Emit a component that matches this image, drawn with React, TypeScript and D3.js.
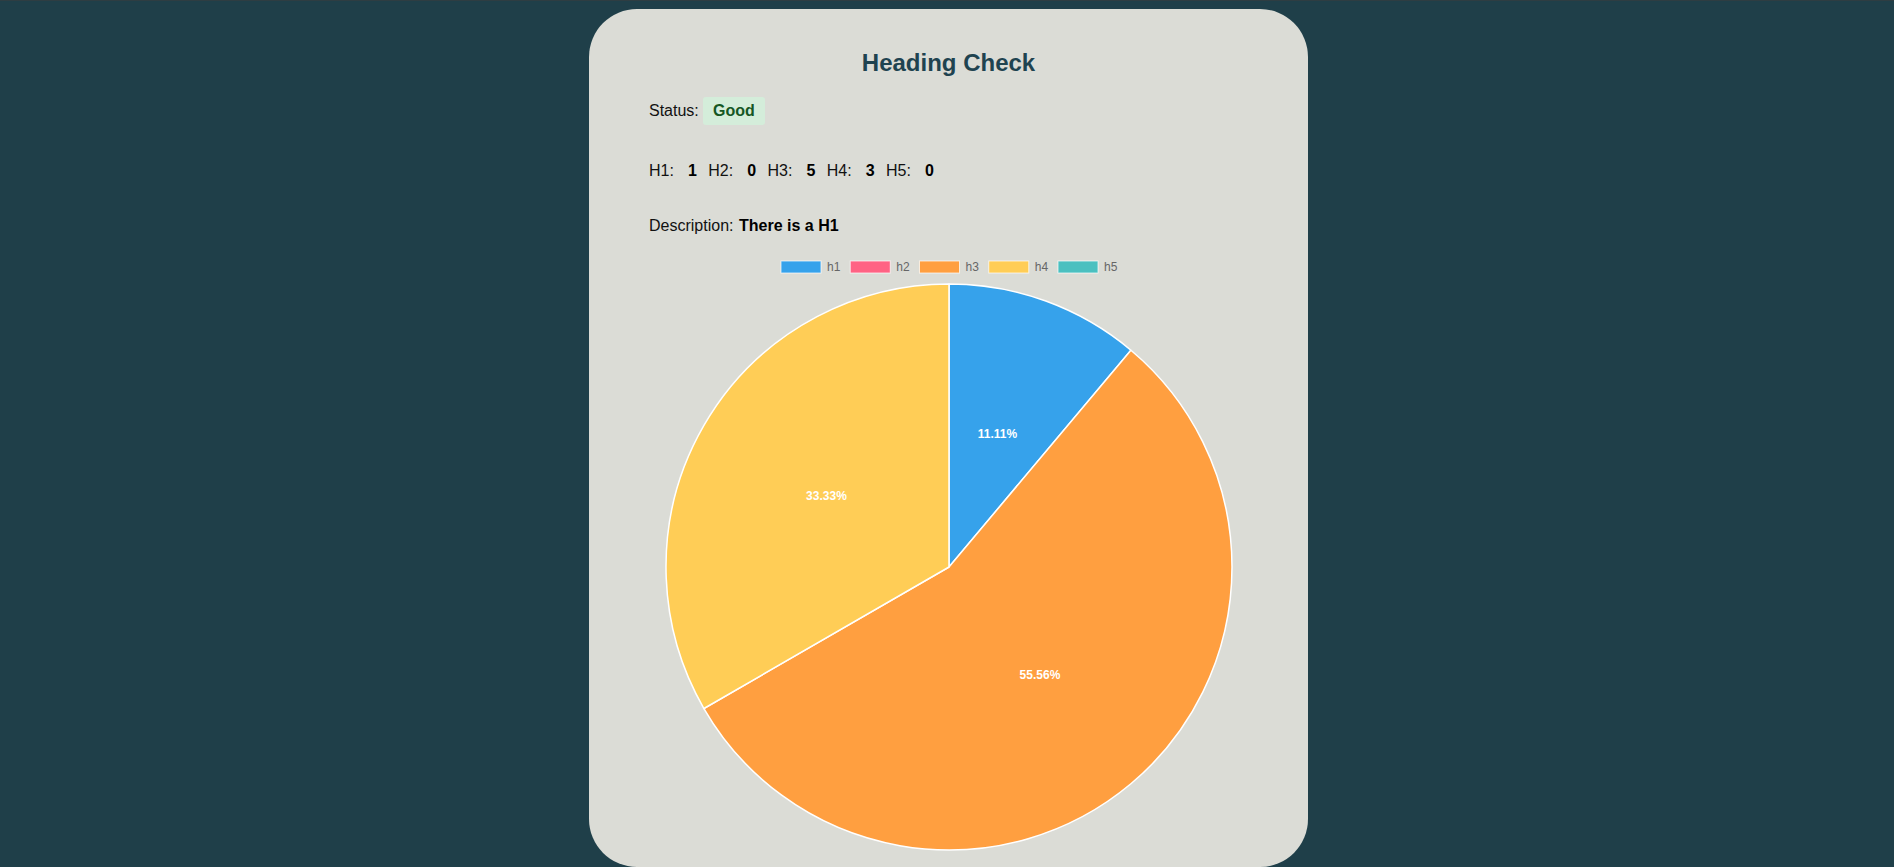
import React, { useEffect, useRef } from "react";
import * as d3 from "d3";

// heading counts
const headingKeys = ["h1", "h2", "h3", "h4", "h5"];
const headingLabels = ["H1", "H2", "H3", "H4", "H5"];
const headingCounts = [1, 0, 5, 3, 0];
const sliceColors = ["#36a2eb", "#ff6384", "#ff9f40", "#ffcd56", "#4bc0c0"];

const title = "Heading Check";
const statusText = "Good";
const descriptionText = "There is a H1";

const W = 1894;
const H = 867;
const FONT = "'Liberation Sans', Arial, Helvetica, sans-serif";

const card = { x: 589, y: 9, w: 719, h: 858, r: 48 };
const pieSpec = { cx: 949, cy: 567, r: 283 };

export default function App() {
  const pieRef = useRef<SVGGElement>(null);
  const legendRef = useRef<SVGGElement>(null);

  useEffect(() => {
    document.body.style.margin = "0";
    document.body.style.background = "#1f3f49";

    const data = headingKeys.map((k, i) => ({ key: k, value: headingCounts[i], color: sliceColors[i] }));
    const total = d3.sum(headingCounts);
    const pie = d3.pie<any>().value(d => d.value).sort(null);
    const arc = d3.arc<any>().innerRadius(0).outerRadius(pieSpec.r);
    const labelArc = d3.arc<any>().innerRadius(pieSpec.r / 2).outerRadius(pieSpec.r / 2);
    const fmt = d3.format(".2f");

    const g = d3.select(pieRef.current);
    g.selectAll("*").remove();
    const arcs = pie(data).filter(d => d.data.value > 0);

    g.selectAll("path.arc")
      .data(arcs)
      .enter()
      .append("path")
      .attr("class", "arc")
      .attr("d", arc)
      .attr("fill", d => d.data.color)
      .attr("stroke", "#ffffff")
      .attr("stroke-width", 1.5)
      .attr("stroke-linejoin", "round");

    g.selectAll("text.pct")
      .data(arcs)
      .enter()
      .append("text")
      .attr("class", "pct")
      .attr("transform", d => `translate(${labelArc.centroid(d)})`)
      .attr("text-anchor", "middle")
      .attr("dominant-baseline", "central")
      .style("fill", "#ffffff")
      .style("font-family", FONT)
      .style("font-weight", "bold")
      .style("font-size", "12px")
      .text(d => `${fmt((d.data.value / total) * 100)}%`);

    // legend
    const lg = d3.select(legendRef.current);
    lg.selectAll("*").remove();
    const legendX = d3.scalePoint<string>().domain(headingKeys).range([781, 1058]);
    const item = lg
      .selectAll("g.item")
      .data(data)
      .enter()
      .append("g")
      .attr("class", "item")
      .attr("transform", d => `translate(${legendX(d.key)}, 261)`);
    item
      .append("rect")
      .attr("width", 40)
      .attr("height", 12)
      .attr("fill", d => d.color)
      .attr("stroke", "#ffffff")
      .attr("stroke-opacity", 0.7)
      .attr("stroke-width", 1);
    item
      .append("text")
      .attr("x", 46)
      .attr("y", 6)
      .attr("dominant-baseline", "central")
      .style("fill", "#666666")
      .style("font-family", FONT)
      .style("font-size", "12px")
      .text(d => d.key);
  }, []);

  const rowX = d3.scaleLinear().domain([0, 4]).range([649, 886]);

  return (
    <svg width={W} height={H} style={{ display: "block", position: "absolute", left: 0, top: 0 }}>
      <rect x={0} y={0} width={W} height={H} fill="#1f3f49" />
      <rect x={0} y={0} width={W} height={1} fill="#2e3d42" />
      <rect x={card.x} y={card.y} width={card.w} height={card.h} rx={card.r} ry={card.r} fill="#dbdcd6" />
      <text
        x={card.x + card.w / 2}
        y={71}
        textAnchor="middle"
        fontFamily={FONT}
        fontWeight="bold"
        fontSize={24}
        fill="#1f4350"
      >
        {title}
      </text>

      <text x={649} y={116} fontFamily={FONT} fontSize={16} fill="#111">
        Status:
      </text>
      <rect x={703} y={97} width={62} height={28} rx={3} fill="#d4edda" />
      <text x={734} y={116} textAnchor="middle" fontFamily={FONT} fontWeight="bold" fontSize={16} fill="#155724">
        {statusText}
      </text>

      {headingLabels.map((h, i) => (
        <g key={h} fontFamily={FONT} fontSize={16} fill="#111">
          <text x={rowX(i)} y={176}>{`${h}:`}</text>
          <text x={rowX(i) + 39} y={176} fontWeight="bold" fill="#000">
            {headingCounts[i]}
          </text>
        </g>
      ))}

      <text x={649} y={231} fontFamily={FONT} fontSize={16} fill="#111">
        Description:
      </text>
      <text x={739} y={231} fontFamily={FONT} fontSize={16} fontWeight="bold" fill="#000">
        {descriptionText}
      </text>

      <g ref={legendRef} />
      <g ref={pieRef} transform={`translate(${pieSpec.cx}, ${pieSpec.cy})`} />
    </svg>
  );
}
